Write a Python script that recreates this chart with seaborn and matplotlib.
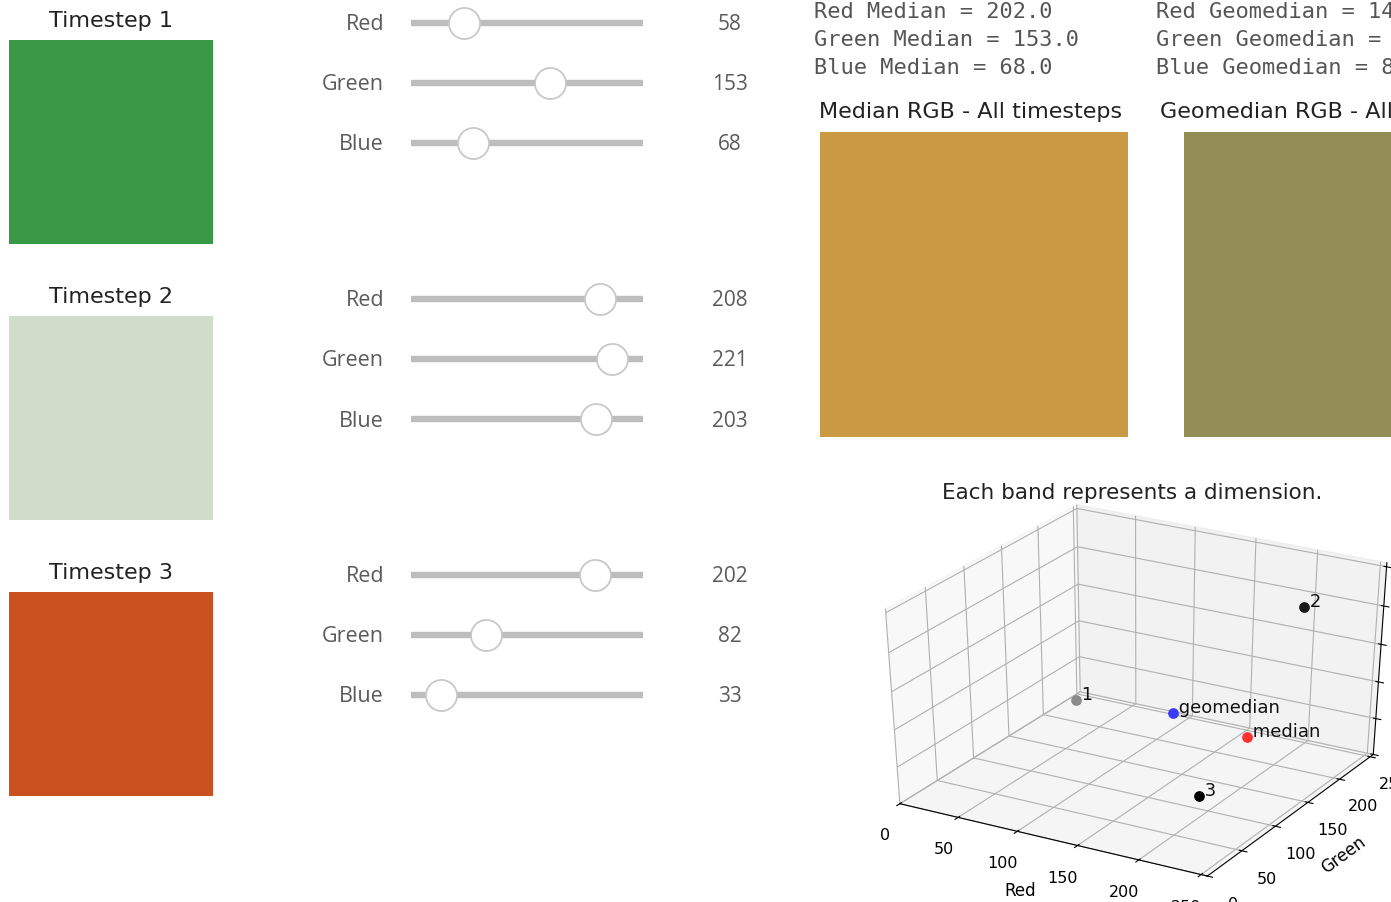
import numpy as np
import matplotlib
matplotlib.use("Agg")
import matplotlib.pyplot as plt
import seaborn as sns

W, H = 1391, 902

# ---------------- data ----------------
timesteps = ["Timestep 1", "Timestep 2", "Timestep 3"]
bands = ["Red", "Green", "Blue"]
red_values = [58, 208, 202]
green_values = [153, 221, 82]
blue_values = [68, 203, 33]
median_rgb = [202.0, 153.0, 68.0]
geomedian_rgb = [146.2, 142.9, 86.9]
point_labels = ["1", "2", "3"]
axis_ticks = [0, 50, 100, 150, 200, 250]

plt.rcParams['font.family'] = ['DejaVu Sans']

fig = plt.figure(figsize=(W / 100, H / 100), dpi=100)


def box(x0, y0, x1, y1, **kw):
    return fig.add_axes([x0 / W, 1 - y1 / H, (x1 - x0) / W, (y1 - y0) / H], **kw)


def ftext(x, y, s, **kw):
    return fig.text(x / W, 1 - y / H, s, **kw)


def swatch(ax, rgb):
    img = np.array(rgb, dtype=float).reshape(1, 1, 3) / 255.0
    ax.imshow(img, aspect='auto', interpolation='nearest')
    ax.set_axis_off()


widget_font = ['Open Sans', 'DejaVu Sans']
label_color = '#5a5a5a'
rows = list(zip(red_values, green_values, blue_values))

# ---------------- left: timestep swatches + sliders ----------------
for i, (name, rgb) in enumerate(zip(timesteps, rows)):
    top = 40 + 276 * i
    ax = box(9, top, 213, top + 204)
    swatch(ax, rgb)
    ftext(111, top - 19, name, ha='center', va='center', fontsize=16, color='#222222')
    for j, (band, val) in enumerate(zip(bands, rgb)):
        yc = 23 + 276 * i + 60 * j
        sax = box(411, yc - 16, 643, yc + 16)
        sns.lineplot(x=[0, 255], y=[0, 0], ax=sax, color='#bdbdbd', linewidth=4.6,
                     solid_capstyle='butt')
        sns.scatterplot(x=[val], y=[0], ax=sax, s=500, color='white',
                        edgecolor='#c8c8c8', linewidth=1.3, zorder=5, clip_on=False)
        sax.set_xlim(0, 255)
        sax.set_ylim(-1, 1)
        sax.set_axis_off()
        ftext(384, yc + 2, band, ha='right', va='center', fontsize=15.5,
              color=label_color, family=widget_font)
        ftext(730, yc + 2, str(val), ha='center', va='center', fontsize=15,
              color=label_color, family=widget_font)

# ---------------- right top: median / geomedian ----------------
mono = dict(family='DejaVu Sans Mono', fontsize=15.8, color='#555555', va='center')
for j, band in enumerate(bands):
    ftext(814, 12 + 28 * j, f"{band} Median = {median_rgb[j]:.1f}", **mono)
    ftext(1156, 12 + 28 * j, f"{band} Geomedian = {geomedian_rgb[j]:.1f}", **mono)

ftext(819, 112, "Median RGB - All timesteps", ha='left', va='center', fontsize=16,
      color='#222222')
ftext(1160, 112, "Geomedian RGB - All timesteps", ha='left', va='center', fontsize=16,
      color='#222222')
swatch(box(820, 132, 1128, 437), median_rgb)
swatch(box(1184, 132, 1500, 437), geomedian_rgb)

# ---------------- 3D scatter ----------------
ftext(1132, 493, "Each band represents a dimension.", ha='center', va='center',
      fontsize=15.5, color='#222222')
ax3 = box(811, 481, 1452, 900, projection='3d')


def _stretch_aspect(position=None):
    # keep the full (non-square) panel, like the classic mplot3d look
    ax3._set_position(ax3.get_position(original=True), 'active')


ax3.apply_aspect = _stretch_aspect

point_colors = ['#8a8a8a', '#1a1a1a', '#000000']
for r, g, b, lab, c in zip(red_values, green_values, blue_values, point_labels, point_colors):
    ax3.scatter([r], [g], [b], color=c, s=45, depthshade=False)
    ax3.text(r, g, b, " " + lab, fontsize=13, color='#111111')
ax3.scatter([geomedian_rgb[0]], [geomedian_rgb[1]], [geomedian_rgb[2]], color='#3b3bff',
            s=45, depthshade=False)
ax3.text(geomedian_rgb[0], geomedian_rgb[1], geomedian_rgb[2], " geomedian", fontsize=13,
         color='#111111')
ax3.scatter([median_rgb[0]], [median_rgb[1]], [median_rgb[2]], color='#ff3030',
            s=45, depthshade=False)
ax3.text(median_rgb[0], median_rgb[1], median_rgb[2], " median", fontsize=13,
         color='#111111')
ax3.set_xlim(0, 255)
ax3.set_ylim(0, 255)
ax3.set_zlim(0, 255)
ax3.set_xticks(axis_ticks)
ax3.set_yticks(axis_ticks)
ax3.set_zticks(axis_ticks)
ax3.tick_params(labelsize=11.5, pad=8)
ax3.set_xlabel("Red", fontsize=12, labelpad=12)
ax3.set_ylabel("Green", fontsize=12, labelpad=12)
ax3.set_zlabel("Blue", fontsize=12, labelpad=12)
ax3.set_box_aspect((1, 1, 1), zoom=0.935)
ax3.view_init(elev=34, azim=-60)

fig.savefig("out.png", dpi=100)
